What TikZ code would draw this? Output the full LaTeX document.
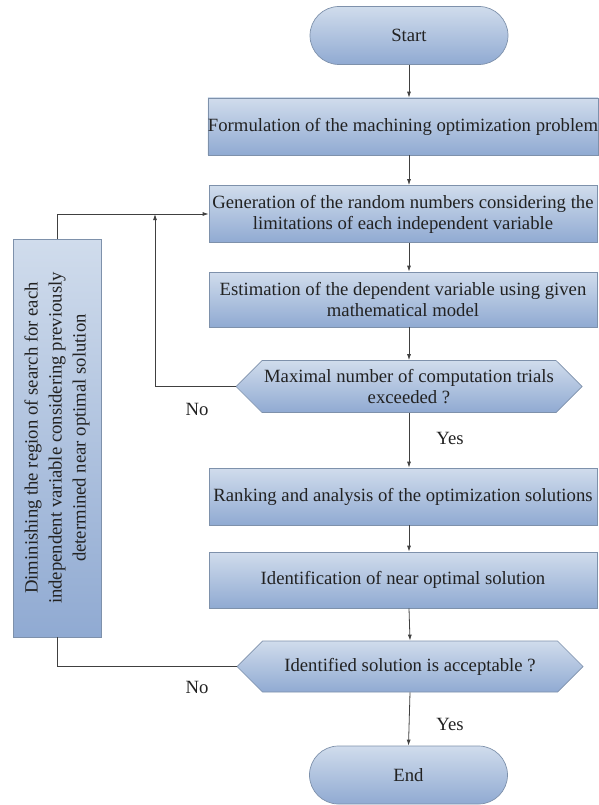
\documentclass[tikz,border=0pt]{standalone}
\usepackage{fontspec}
\setmainfont{Liberation Serif}
\newfontfamily\tnr{Liberation Serif}
\usetikzlibrary{shapes.symbols,arrows.meta}
\definecolor{boxtop}{HTML}{D0DCEC}
\definecolor{boxbot}{HTML}{90AAD2}
\definecolor{boxline}{HTML}{7E91AB}
\definecolor{txt}{HTML}{222222}
\tikzset{
  tfont/.style={font=\tnr\fontsize{18.7}{21}\selectfont, text=txt},
  shade box/.style={tfont, draw=boxline, line width=0.7pt, top color=boxtop, bottom color=boxbot, inner sep=0pt, align=center},
  procbox/.style={shade box, rectangle, minimum width=388pt, minimum height=57pt},
  termbox/.style={shade box, rectangle, rounded corners=29pt, minimum width=198pt, minimum height=58pt},
  decbox/.style={shade box, signal, signal to=west and east, signal pointer angle=90, minimum width=346pt, minimum height=52pt},
  conn/.style={draw=black!75, line width=0.8pt},
  arr/.style={conn, -{Latex[length=6pt,width=4pt]}},
  lbl/.style={tfont, inner sep=0pt}
}
\begin{document}
\begin{tikzpicture}[x=1pt,y=-1pt]
\useasboundingbox (0,0) rectangle (598,805);
\coordinate (ax) at (409,0);
\node[termbox] (start) at (409,35.5) {Start};
\node[procbox] (b1) at (403,126.5) {Formulation of the machining optimization problem};
\node[procbox] (b2) at (403,214) {Generation of the random numbers considering the\\limitations of each independent variable};
\node[procbox, minimum height=55pt] (b3) at (403,299.5) {Estimation of the dependent variable using given\\mathematical model};
\node[decbox] (d1) at (409,386.5) {Maximal number of computation trials\\exceeded ?};
\node[procbox] (b4) at (403,496.5) {Ranking and analysis of the optimization solutions};
\node[procbox, minimum height=56pt] (b5) at (403,580) {Identification of near optimal solution};
\node[decbox, minimum height=51pt] (d2) at (410,666.5) {Identified solution is acceptable ?};
\node[termbox] (end) at (408.5,775) {End};
\node[shade box, rotate=90, minimum width=398pt, minimum height=88pt, font=\tnr\fontsize{18.7}{24}\selectfont] (lb) at (57,438) {Diminishing the region of search for each\\independent variable considering previously\\determined near optimal solution};
\coordinate (j) at (155,214);
\node[lbl] (no1) at (197,409) {No};
\node[lbl] (no2) at (197,687) {No};
\node[lbl] (yes1) at (450,438) {Yes};
\node[lbl] (yes2) at (450,724) {Yes};
\draw[arr] (start.south) -- (start.south |- b1.north);
\draw[arr] (b1.south -| ax) -- (b2.north -| ax);
\draw[arr] (b2.south -| ax) -- (b3.north -| ax);
\draw[arr] (b3.south -| ax) -- (d1.north);
\draw[arr] (d1.south) -- (b4.north -| ax);
\draw[arr] (b4.south -| ax) -- (b5.north -| ax);
\draw[arr] (b5.south -| ax) -- (d2.north);
\draw[arr] (d2.south) -- (end.north);
\draw[arr] (d1.west) -| (j);
\draw[arr] (lb.east) |- (b2.west);
\draw[conn] (d2.west) -| (lb.west);
\end{tikzpicture}
\end{document}
